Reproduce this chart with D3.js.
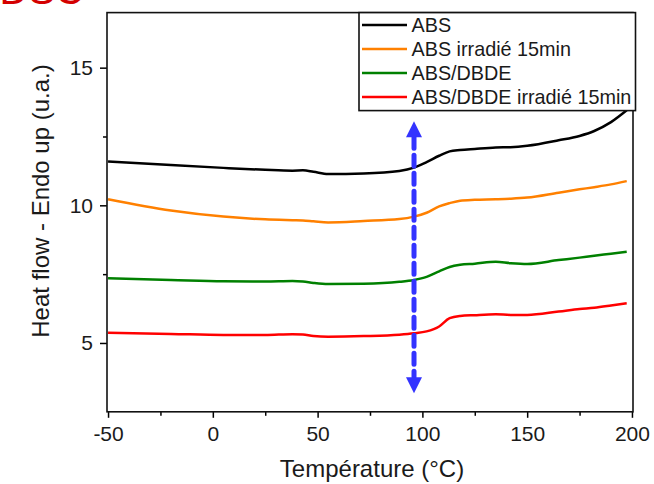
<!DOCTYPE html>
<html>
<head>
<meta charset="utf-8">
<script src="https://cdn.jsdelivr.net/npm/d3@7"></script>
<style>
  html, body { margin: 0; padding: 0; background: #fff; }
  svg { display: block; font-family: "Liberation Sans", Arial, sans-serif; }
</style>
</head>
<body>
<svg id="chart" width="654" height="484"></svg>
<script>
// ---- data ----
const temps       = [-50, -20, 5, 25, 38, 43, 48, 55, 72, 89, 96, 102, 108, 113, 118, 125, 135, 142, 150, 165, 175, 182, 190, 197.5];
const absVals     = [11.59, 11.46, 11.36, 11.29, 11.26, 11.27, 11.22, 11.14, 11.16, 11.25, 11.37, 11.57, 11.80, 11.96, 12.01, 12.05, 12.10, 12.11, 12.16, 12.36, 12.52, 12.70, 13.02, 13.45];
const absIrrVals  = [10.22, 9.81, 9.59, 9.49, 9.46, 9.45, 9.42, 9.38, 9.43, 9.50, 9.59, 9.73, 9.96, 10.08, 10.17, 10.20, 10.22, 10.24, 10.28, 10.46, 10.58, 10.66, 10.76, 10.88];
const dbdeVals    = [7.35, 7.29, 7.24, 7.23, 7.25, 7.23, 7.18, 7.14, 7.15, 7.22, 7.29, 7.40, 7.60, 7.76, 7.84, 7.88, 7.95, 7.90, 7.87, 8.01, 8.10, 8.17, 8.24, 8.31];
const dbdeIrrVals = [5.37, 5.33, 5.29, 5.29, 5.32, 5.31, 5.25, 5.23, 5.25, 5.30, 5.35, 5.42, 5.60, 5.90, 5.98, 6.01, 6.04, 6.02, 6.02, 6.14, 6.23, 6.28, 6.36, 6.44];
const seriesNames = ["ABS", "ABS irradié 15min", "ABS/DBDE", "ABS/DBDE irradié 15min"];
const seriesColors = ["#000000", "#ff8000", "#008000", "#ff0000"];
const xTicks = [-50, 0, 50, 100, 150, 200];
const xTickLabels = ["-50", "0", "50", "100", "150", "200"];
const xMinorTicks = [-25, 25, 75, 125, 175];
const yTicks = [5, 10, 15];
const yTickLabels = ["5", "10", "15"];
const yMinorTicks = [7.5, 12.5];
const arrowTemp = 96;
const arrowTop = 13.05;
const arrowBottom = 3.17;
const xTitle = "Température (°C)";
const yTitle = "Heat flow - Endo up (u.a.)";
const cornerText = "DSC";

(function () {
// ---- layout ----
const svg = d3.select("#chart");
const L = 107, R = 633, T = 12.6, B = 411.8;

const x = d3.scaleLinear().domain([-50.5, 200.5]).range([L, R]);
const y = d3.scaleLinear().domain([2.5, 17]).range([B, T]);

// corner red text (cut off at top, as in the reference)
svg.append("text")
  .attr("x", 84).attr("y", 4)
  .attr("text-anchor", "end")
  .attr("font-size", 40)
  .attr("fill", "#d40000")
  .text(cornerText);

// series
const series = [absVals, absIrrVals, dbdeVals, dbdeIrrVals].map((vals, i) => ({
  name: seriesNames[i], color: seriesColors[i],
  pts: temps.map((t, j) => [t, vals[j]])
}));

const line = d3.line().x(d => x(d[0])).y(d => y(d[1])).curve(d3.curveMonotoneX);

svg.append("g").selectAll("path").data(series).join("path")
  .attr("d", d => line(d.pts))
  .attr("fill", "none")
  .attr("stroke", d => d.color)
  .attr("stroke-width", 2.5)
  .attr("stroke-linejoin", "round");

// blue dashed double arrow
const ax = x(arrowTemp);
const headH = 16, headW = 16;
const blue = "#3333ff";
svg.append("line")
  .attr("x1", ax).attr("x2", ax)
  .attr("y1", y(arrowTop) + headH).attr("y2", y(arrowBottom) - headH)
  .attr("stroke", blue).attr("stroke-width", 5)
  .attr("stroke-dasharray", "11,7")
  .attr("stroke-linecap", "round");
svg.append("path")
  .attr("d", `M${ax},${y(arrowTop)} L${ax - headW/2},${y(arrowTop) + headH} L${ax + headW/2},${y(arrowTop) + headH} Z`)
  .attr("fill", blue);
svg.append("path")
  .attr("d", `M${ax},${y(arrowBottom)} L${ax - headW/2},${y(arrowBottom) - headH} L${ax + headW/2},${y(arrowBottom) - headH} Z`)
  .attr("fill", blue);

// axes
const fontTick = 21;
const gx = svg.append("g").attr("transform", `translate(0,${B})`)
  .call(d3.axisBottom(x).tickValues(xTicks).tickFormat((d, i) => xTickLabels[i])
    .tickSize(6).tickPadding(8).tickSizeOuter(0));
gx.select(".domain").remove();
gx.selectAll("text").attr("font-size", fontTick).attr("fill", "#1a1a1a").attr("font-family", "Liberation Sans, Arial, sans-serif");
gx.selectAll("line").attr("stroke", "#000").attr("stroke-width", 1.5);
const gxm = svg.append("g").attr("transform", `translate(0,${B})`)
  .call(d3.axisBottom(x).tickValues(xMinorTicks).tickSize(4).tickFormat("").tickSizeOuter(0));
gxm.select(".domain").remove();
gxm.selectAll("line").attr("stroke", "#000").attr("stroke-width", 1.5);

const gy = svg.append("g").attr("transform", `translate(${L},0)`)
  .call(d3.axisLeft(y).tickValues(yTicks).tickFormat((d, i) => yTickLabels[i])
    .tickSize(7).tickPadding(7).tickSizeOuter(0));
gy.select(".domain").remove();
gy.selectAll("text").attr("font-size", fontTick).attr("fill", "#1a1a1a").attr("font-family", "Liberation Sans, Arial, sans-serif");
gy.selectAll("line").attr("stroke", "#000").attr("stroke-width", 1.5);
const gym = svg.append("g").attr("transform", `translate(${L},0)`)
  .call(d3.axisLeft(y).tickValues(yMinorTicks).tickSize(4).tickFormat("").tickSizeOuter(0));
gym.select(".domain").remove();
gym.selectAll("line").attr("stroke", "#000").attr("stroke-width", 1.5);

// frame
svg.append("rect")
  .attr("x", L).attr("y", T)
  .attr("width", R - L).attr("height", B - T)
  .attr("fill", "none").attr("stroke", "#111").attr("stroke-width", 1.6);

// titles
svg.append("text")
  .attr("x", 372).attr("y", 477)
  .attr("text-anchor", "middle")
  .attr("font-size", 24)
  .attr("fill", "#1a1a1a")
  .text(xTitle);
svg.append("text")
  .attr("transform", `translate(49,201) rotate(-90)`)
  .attr("text-anchor", "middle")
  .attr("font-size", 24)
  .attr("fill", "#1a1a1a")
  .text(yTitle);

// legend
const lg = svg.append("g");
lg.append("rect")
  .attr("x", 359).attr("y", 12.6)
  .attr("width", 276.5).attr("height", 98)
  .attr("fill", "#fff").attr("stroke", "#111").attr("stroke-width", 1.6);
const rows = lg.selectAll("g.row").data(series).join("g")
  .attr("transform", (d, i) => `translate(0,${25 + i * 24})`);
rows.append("line")
  .attr("x1", 362).attr("x2", 407)
  .attr("y1", 0).attr("y2", 0)
  .attr("stroke", d => d.color).attr("stroke-width", 2.5);
rows.append("text")
  .attr("x", 411.5).attr("y", 0)
  .attr("dy", "0.35em")
  .attr("font-size", 19.8)
  .attr("fill", "#1a1a1a")
  .text(d => d.name);
})();
</script>
</body>
</html>
